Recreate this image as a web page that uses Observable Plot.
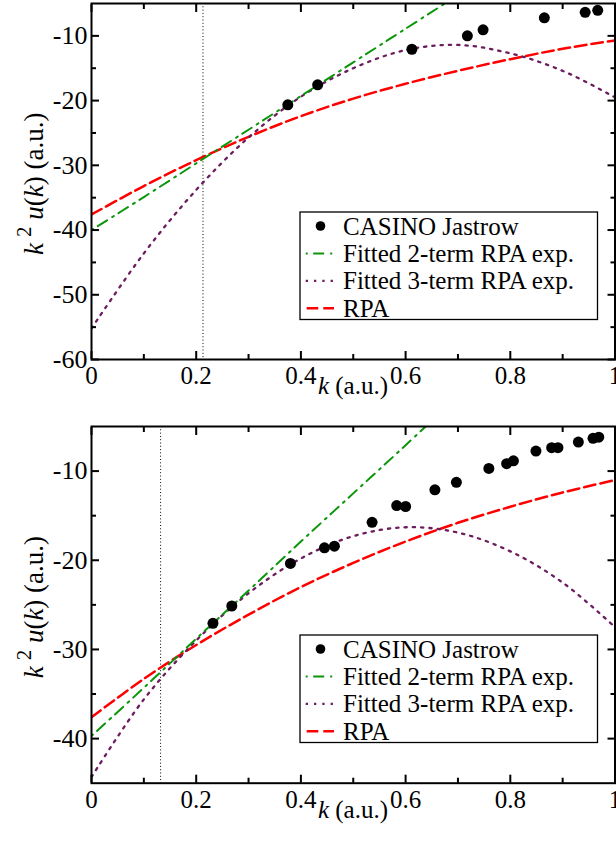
<!DOCTYPE html>
<html>
<head>
<meta charset="utf-8">
<script src="https://cdn.jsdelivr.net/npm/d3@7"></script>
<script src="https://cdn.jsdelivr.net/npm/@observablehq/plot@0.6"></script>
<style>
  html, body { margin: 0; padding: 0; background: #fff; }
  #wrap { position: relative; width: 616px; height: 842px; overflow: hidden; }
  svg { display: block; }
</style>
</head>
<body>
<div id="wrap"></div>
<script>
// ---------- data ----------
const xMajor = [0, 0.2, 0.4, 0.6, 0.8, 1];
const xMinor = [0.1, 0.3, 0.5, 0.7, 0.9];

const topYDomain = [-60, -5];
const topYMajor = [-60, -50, -40, -30, -20, -10];
const topYMinor = [-55, -45, -35, -25, -15];
const botYDomain = [-45, -5];
const botYMajor = [-40, -30, -20, -10];
const botYMinor = [-35, -25, -15];

const kCurve = [0, 0.1, 0.2, 0.3, 0.4, 0.5, 0.6, 0.7, 0.8, 0.9, 1.0];
const kFit2  = [0, 0.1, 0.2, 0.3, 0.4, 0.5, 0.6, 0.7];

// top panel
const topCasinoK = [0.375, 0.432, 0.612, 0.718, 0.748, 0.865, 0.943, 0.967];
const topCasinoY = [-20.65, -17.56, -12.07, -10.0, -9.07, -7.22, -6.36, -6.05];
const topFit2 = [-40.0, -34.9, -29.7, -24.5, -19.3, -14.1, -8.9, -3.7];
const topFit3 = [-55.2, -43.6, -33.8, -25.7, -19.4, -15.0, -12.2, -11.4, -12.7, -15.4, -19.5];
const topRPA  = [-37.6, -33.2, -29.2, -25.6, -22.4, -19.7, -17.4, -15.4, -13.6, -12.0, -10.7];
const topCutoff = 0.213;

// bottom panel
const botCasinoK = [0.232, 0.268, 0.380, 0.445, 0.464, 0.536, 0.583, 0.600, 0.656, 0.697, 0.759, 0.793, 0.806, 0.849, 0.879, 0.891, 0.930, 0.958, 0.969];
const botCasinoY = [-27.07, -25.13, -20.36, -18.6, -18.42, -15.74, -13.87, -13.97, -12.1, -11.26, -9.7, -9.17, -8.85, -7.76, -7.38, -7.38, -6.75, -6.32, -6.2];
const botFit2 = [-39.7, -34.3, -28.8, -23.4, -17.9, -12.5, -7.1, -1.6];
const botFit3 = [-44.3, -35.6, -29.0, -23.7, -19.8, -17.3, -16.3, -16.9, -19.0, -22.5, -27.5];
const botRPA  = [-37.6, -33.3, -29.5, -26.1, -23.0, -20.3, -17.9, -15.8, -14.0, -12.4, -11.0];
const botCutoff = 0.132;

const legendLabels = ["CASINO Jastrow", "Fitted 2-term RPA exp.", "Fitted 3-term RPA exp.", "RPA"];

// ---------- styles ----------
const SERIF = "'Liberation Serif', 'Times New Roman', serif";
const RED = "#ff0000", GREEN = "#0a960a", PURPLE = "#6b1d5e";
const DASH_RED = "11.6,5", DASH_GREEN = "2,5.5,11,6", DASH_PURPLE = "2.3,6";

function rows(ks, vs) { return ks.map((k, i) => ({k, v: vs[i]})); }

function makePanel(cfg) {
  const frameTop = cfg.marginTop;
  const frameBottom = cfg.height - cfg.marginBottom;
  const tk = {fill: "none", strokeWidth: 2, label: null};
  const svg = Plot.plot({
    width: 616,
    height: cfg.height,
    marginLeft: 91,
    marginRight: 1.5,
    marginTop: cfg.marginTop,
    marginBottom: cfg.marginBottom,
    style: {fontFamily: SERIF, fontSize: "25px", background: "white", color: "black"},
    x: {domain: [0, 1]},
    y: {domain: cfg.yDomain},
    marks: [
      Plot.ruleX([cfg.cutoff], {stroke: "black", strokeWidth: 1, strokeDasharray: "1,2.3"}),
      Plot.line(rows(kCurve, cfg.rpa), {x: "k", y: "v", stroke: RED, strokeWidth: 2.5, strokeDasharray: DASH_RED, curve: "catmull-rom", clip: true}),
      Plot.line(rows(kCurve, cfg.fit3), {x: "k", y: "v", stroke: PURPLE, strokeWidth: 2.3, strokeDasharray: DASH_PURPLE, curve: "catmull-rom", clip: true}),
      Plot.line(rows(kFit2, cfg.fit2), {x: "k", y: "v", stroke: GREEN, strokeWidth: 2, strokeDasharray: DASH_GREEN, curve: "catmull-rom", clip: true}),
      Plot.dot(rows(cfg.casinoK, cfg.casinoY), {x: "k", y: "v", r: 5.5, fill: "black", stroke: "none"}),
      // inward ticks on all four sides
      Plot.axisX(xMajor, {anchor: "bottom", tickSize: -8, ...tk}),
      Plot.axisX(xMinor, {anchor: "bottom", tickSize: -5, ...tk}),
      Plot.axisX(xMajor, {anchor: "top", tickSize: -8, ...tk}),
      Plot.axisX(xMinor, {anchor: "top", tickSize: -5, ...tk}),
      Plot.axisY(cfg.yMajor, {anchor: "left", tickSize: -8, ...tk}),
      Plot.axisY(cfg.yMinor, {anchor: "left", tickSize: -5, ...tk}),
      Plot.axisY(cfg.yMajor, {anchor: "right", tickSize: -8, ...tk}),
      Plot.axisY(cfg.yMinor, {anchor: "right", tickSize: -5, ...tk}),
      // tick labels
      Plot.axisX(xMajor, {anchor: "bottom", tickSize: 0, tickPadding: 7, tickFormat: d => String(d), label: null, fontSize: 25}),
      Plot.axisY(cfg.yMajor, {anchor: "left", tickSize: 0, tickPadding: 4, tickFormat: d => String(d), label: null, fontSize: 26}),
      Plot.frame({stroke: "black", strokeWidth: 2})
    ]
  });

  const s = d3.select(svg);
  s.style("font-family", SERIF);

  // x axis title
  const xt = s.append("text")
    .attr("x", 353).attr("y", frameBottom + 35)
    .attr("text-anchor", "middle")
    .style("font-family", SERIF).style("font-size", "25px").attr("fill", "black");
  xt.append("tspan").attr("font-style", "italic").text("k");
  xt.append("tspan").text(" (a.u.)");

  // y axis title: start-anchored, read bottom to top
  const yStart = (frameTop + frameBottom) / 2 + 74;
  const yt = s.append("text")
    .attr("transform", `translate(43,${yStart}) rotate(-90)`)
    .attr("text-anchor", "start")
    .style("font-family", SERIF).style("font-size", "27px").attr("fill", "black");
  yt.append("tspan").attr("font-style", "italic").text("k");
  yt.append("tspan").attr("dx", 6).attr("dy", -12).style("font-size", "21px").text("2");
  yt.append("tspan").attr("dy", 12).text(" ");
  yt.append("tspan").attr("font-style", "italic").text("u");
  yt.append("tspan").text("(");
  yt.append("tspan").attr("font-style", "italic").text("k");
  yt.append("tspan").text(") (a.u.)");

  // legend
  const g = s.append("g").attr("transform", `translate(300,${frameTop + 209})`);
  g.append("rect").attr("width", 297.5).attr("height", 107.5)
    .attr("fill", "white").attr("stroke", "black").attr("stroke-width", 1.3);
  legendLabels.forEach((lab, i) => {
    const cy = 14 + i * 27.4;
    if (i === 0) {
      g.append("circle").attr("cx", 20.5).attr("cy", cy).attr("r", 4.8).attr("fill", "black");
    } else {
      const st = [null, [GREEN, DASH_GREEN, 2], [PURPLE, DASH_PURPLE, 2.3], [RED, DASH_RED, 2.5]][i];
      g.append("line").attr("x1", i === 3 ? 6.7 : 5.7).attr("x2", 34).attr("y1", cy).attr("y2", cy)
        .attr("stroke", st[0]).attr("stroke-dasharray", st[1]).attr("stroke-width", st[2]);
    }
    g.append("text").attr("x", 43).attr("y", cy + 8.5)
      .attr("text-anchor", "start")
      .style("font-family", SERIF).style("font-size", "25px").attr("fill", "black").text(lab);
  });
  return svg;
}

const wrap = document.getElementById("wrap");
wrap.appendChild(makePanel({
  height: 420, marginTop: 3, marginBottom: 61,
  yDomain: topYDomain, yMajor: topYMajor, yMinor: topYMinor,
  casinoK: topCasinoK, casinoY: topCasinoY,
  fit2: topFit2, fit3: topFit3, rpa: topRPA, cutoff: topCutoff
}));
wrap.appendChild(makePanel({
  height: 422, marginTop: 6, marginBottom: 59.3,
  yDomain: botYDomain, yMajor: botYMajor, yMinor: botYMinor,
  casinoK: botCasinoK, casinoY: botCasinoY,
  fit2: botFit2, fit3: botFit3, rpa: botRPA, cutoff: botCutoff
}));
</script>
</body>
</html>
